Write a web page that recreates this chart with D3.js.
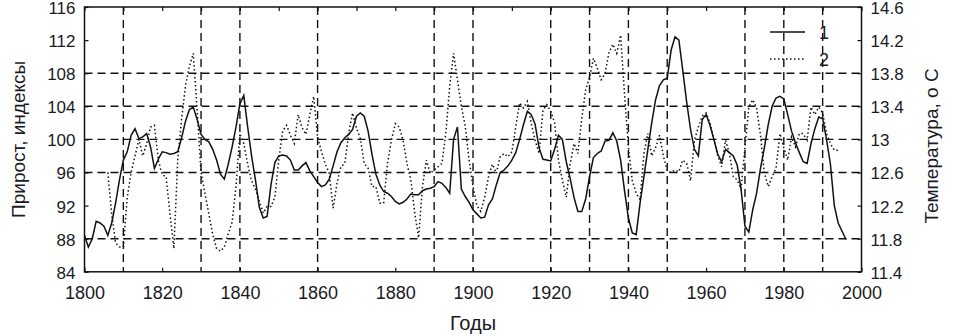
<!DOCTYPE html>
<html>
<head>
<meta charset="utf-8">
<script src="https://cdn.jsdelivr.net/npm/d3@7"></script>
<style>
  body { margin: 0; background: #fff; }
  text { font-family: Arial, "Liberation Sans", sans-serif; fill: #1a1a24; }
</style>
</head>
<body>
<svg width="958" height="336"></svg>
<script>
// Data: series 1 - growth index (left axis), series 2 - temperature, o C (right axis)
const years1 = d3.range(1800, 1997);
const growth = [
  88.4, 87.0, 88.0, 90.1, 89.9, 89.5, 88.4, 89.9, 92.3, 95.1,
  97.5, 98.5, 100.5, 101.3, 100.1, 100.3, 100.7, 99.1, 96.5, 97.6,
  98.5, 98.4, 98.2, 98.3, 98.5, 100.2, 102.2, 103.6, 103.9, 102.4,
  100.6, 100.0, 99.7, 98.8, 97.5, 95.8, 95.2, 97.0, 99.1, 101.5,
  104.3, 105.3, 101.5, 98.0, 95.1, 91.8, 90.5, 90.7, 94.5, 97.2,
  98.0, 98.1, 98.0, 97.5, 96.3, 96.3, 96.8, 97.2, 96.2, 95.5,
  94.8, 94.3, 94.5, 95.2, 96.8, 98.5, 99.6, 100.2, 100.6, 101.2,
  102.8, 103.2, 102.8, 101.0, 98.2, 95.8, 94.5, 93.7, 93.5, 93.1,
  92.5, 92.2, 92.4, 92.8, 93.4, 93.3, 93.3, 93.8, 94.0, 94.1,
  94.3, 94.9, 94.7, 94.2, 93.5, 100.0, 101.5, 94.0, 93.1, 92.4,
  91.5, 91.0, 90.5, 90.6, 92.1, 92.8, 94.5, 96.0, 96.3, 96.8,
  97.5, 98.4, 100.0, 101.8, 103.4, 103.0, 101.8, 99.0, 97.6, 97.5,
  97.4, 98.8, 100.5, 100.0, 97.3, 95.3, 93.0, 91.3, 91.3, 92.8,
  95.5, 97.8, 98.3, 98.6, 99.8, 99.9, 100.8, 99.8, 97.5, 93.8,
  90.5, 88.7, 88.5, 92.3, 95.5, 98.8, 102.0, 104.8, 106.5, 107.2,
  107.4, 110.8, 112.4, 112.0, 108.3, 104.5, 101.2, 98.8, 98.0, 102.4,
  103.0, 101.7, 100.0, 98.2, 97.3, 98.8, 98.4, 98.0, 96.9, 94.0,
  89.5, 88.8, 91.5, 93.5, 96.5, 99.0, 101.8, 104.0, 105.0, 105.2,
  104.9, 103.0, 101.0, 99.6, 98.4, 97.3, 97.1, 99.5, 101.3, 102.7,
  102.5, 100.0, 97.0, 92.0, 89.9, 88.9, 87.9
];

const years2 = d3.range(1806, 1995);
const temperature = [
  12.60, 12.10, 11.75, 11.70, 11.70, 12.30, 12.60, 12.80, 13.00, 12.80,
  12.95, 13.15, 13.17, 12.75, 12.57, 12.55, 12.10, 11.68, 12.75, 13.25,
  13.65, 13.88, 14.04, 13.35, 12.60, 12.35, 12.10, 11.85, 11.68, 11.65,
  11.70, 11.86, 12.00, 12.43, 13.07, 12.95, 12.70, 12.50, 12.40, 12.25,
  12.11, 12.19, 12.19, 12.30, 12.75, 13.10, 13.17, 13.05, 12.95, 13.30,
  13.14, 13.06, 13.30, 13.52, 13.03, 12.85, 12.70, 12.59, 12.17, 12.47,
  12.67, 12.71, 13.07, 13.32, 13.14, 13.01, 12.71, 12.65, 12.43, 12.43,
  12.23, 12.23, 12.71, 12.99, 13.19, 13.15, 12.99, 12.71, 12.51, 12.11,
  11.81, 12.43, 12.75, 12.59, 12.63, 12.67, 12.71, 13.07, 13.64, 14.04,
  13.72, 13.40, 13.16, 12.75, 12.43, 12.20, 12.13, 12.30, 12.55, 12.70,
  12.59, 12.79, 12.83, 12.79, 12.85, 13.15, 13.44, 13.38, 13.46, 13.19,
  12.99, 12.83, 13.35, 13.42, 13.34, 13.20, 12.75, 12.51, 12.30, 12.70,
  12.95, 12.83, 13.25, 13.60, 13.75, 13.98, 13.86, 13.72, 13.80, 14.05,
  14.15, 14.04, 14.26, 13.55, 12.91, 12.50, 12.35, 12.27, 12.83, 13.07,
  12.80, 12.90, 13.05, 12.80, 12.62, 12.60, 12.63, 12.61, 12.75, 12.71,
  12.50, 12.99, 13.15, 13.28, 13.32, 13.20, 13.00, 12.80, 12.67, 12.99,
  12.83, 12.55, 12.51, 12.40, 12.90, 13.39, 13.48, 13.38, 13.05, 12.59,
  12.43, 12.55, 12.65, 13.07, 12.90, 12.75, 13.03, 12.91, 13.07, 13.07,
  12.99, 13.39, 13.30, 13.39, 13.32, 13.07, 12.95, 12.87, 12.87
];

const xTicks = d3.range(1800, 2001, 20);
const leftTicks = d3.range(84, 117, 4);
const rightTicks = d3.range(11.4, 14.61, 0.4).map(v => Math.round(v * 10) / 10);
const xGrid = [1810, 1830, 1840, 1860, 1890, 1900, 1920, 1930, 1940, 1950, 1970, 1980, 1990];
const yGrid = [88, 96, 100, 104, 108];
const legendLabels = ["1", "2"];

const svg = d3.select("svg");
const pLeft = 84.5, pRight = 861.5, pTop = 7, pBottom = 271.8;

const x = d3.scaleLinear().domain([1800, 2000]).range([pLeft, pRight]);
const yL = d3.scaleLinear().domain([84, 116]).range([pBottom, pTop]);
const yR = d3.scaleLinear().domain([11.4, 14.6]).range([pBottom, pTop]);

// Grid (dashed)
const grid = svg.append("g").attr("stroke", "#111").attr("stroke-width", 1.4).attr("stroke-dasharray", "8,5");
grid.selectAll(".gx").data(xGrid).enter().append("line")
  .attr("x1", d => x(d)).attr("x2", d => x(d)).attr("y1", pTop).attr("y2", pBottom);
grid.selectAll(".gy").data(yGrid).enter().append("line")
  .attr("x1", pLeft).attr("x2", pRight).attr("y1", d => yL(d)).attr("y2", d => yL(d));

// Lines
const line1 = d3.line().x((d, i) => x(years1[i])).y(d => yL(d));
const line2 = d3.line().x((d, i) => x(years2[i])).y(d => yR(d));

svg.append("path").datum(temperature).attr("d", line2)
  .attr("fill", "none").attr("stroke", "#111").attr("stroke-width", 1.5).attr("stroke-dasharray", "1.5,2.5");
svg.append("path").datum(growth).attr("d", line1)
  .attr("fill", "none").attr("stroke", "#111").attr("stroke-width", 1.5);

// Axes (ticks inward)
const fmt = d3.format("");
svg.append("g").attr("transform", `translate(0,${pBottom})`)
  .call(d3.axisBottom(x).tickValues(xTicks).tickFormat(fmt).tickSizeInner(-4).tickSizeOuter(0).tickPadding(14))
  .call(g => g.select(".domain").remove())
  .selectAll("text").style("font-size", "18px");
svg.append("g").attr("transform", `translate(0,${pTop})`)
  .call(d3.axisTop(x).tickValues(d3.range(1800, 2001, 10)).tickFormat("").tickSizeInner(-4).tickSizeOuter(0))
  .call(g => g.select(".domain").remove());
svg.append("g").attr("transform", `translate(${pLeft},0)`)
  .call(d3.axisLeft(yL).tickValues(leftTicks).tickSizeInner(-4).tickSizeOuter(0).tickPadding(9))
  .call(g => g.select(".domain").remove())
  .selectAll("text").style("font-size", "17px").attr("dy", "0.38em");
svg.append("g").attr("transform", `translate(${pRight},0)`)
  .call(d3.axisRight(yR).tickValues(rightTicks).tickFormat(d3.format("")).tickSizeInner(-4).tickSizeOuter(0).tickPadding(9))
  .call(g => g.select(".domain").remove())
  .selectAll("text").style("font-size", "17px").attr("dy", "0.38em");
svg.selectAll(".tick line").attr("stroke", "#111").attr("stroke-width", 1.2);

// Frame
svg.append("rect").attr("x", pLeft).attr("y", pTop).attr("width", pRight - pLeft).attr("height", pBottom - pTop)
  .attr("fill", "none").attr("stroke", "#111").attr("stroke-width", 1.5);

// Axis titles
svg.append("text").attr("x", (pLeft + pRight) / 2).attr("y", 330).attr("text-anchor", "middle")
  .style("font-size", "20px").text("Годы");
svg.append("text").attr("transform", `translate(25,${(pTop + pBottom) / 2}) rotate(-90)`).attr("text-anchor", "middle")
  .style("font-size", "19px").text("Прирост, индексы");
svg.append("text").attr("transform", `translate(938,146) rotate(-90)`).attr("text-anchor", "middle")
  .style("font-size", "19px").text("Температура,  о С");

// Legend
const legend = svg.append("g");
legend.selectAll("line").data(legendLabels).enter().append("line")
  .attr("x1", 770).attr("x2", 805).attr("y1", (d, i) => 32 + i * 27).attr("y2", (d, i) => 32 + i * 27)
  .attr("stroke", "#111").attr("stroke-width", 1.5)
  .attr("stroke-dasharray", (d, i) => i === 0 ? null : "1.5,2.5");
legend.selectAll("text").data(legendLabels).enter().append("text")
  .attr("x", 819).attr("y", (d, i) => 32 + i * 27).attr("dy", "0.38em")
  .style("font-size", "18px").text(d => d);
</script>
</body>
</html>
